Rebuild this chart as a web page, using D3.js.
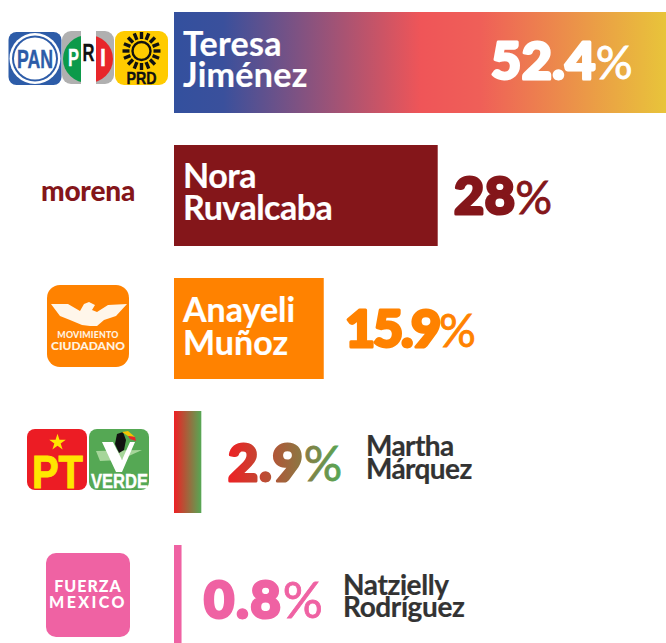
<!DOCTYPE html>
<html><head><meta charset="utf-8">
<script src="https://cdn.jsdelivr.net/npm/d3@7"></script>
<style>html,body{margin:0;padding:0;background:#fff}svg{display:block}text{font-family:Lato,"Open Sans",sans-serif}</style>
</head><body><div id="c"></div>
<script>
const firstNames=["Teresa","Nora","Anayeli","Martha","Natzielly"];
const lastNames=["Jiménez","Ruvalcaba","Muñoz","Márquez","Rodríguez"];
const values=[52.4,28,15.9,2.9,0.8];
const fills=["url(#gFront)","#84161a","#ff8200","url(#gGreen)","#ef62a3"];
const labelFills=["#fff","#84161a","#ff8200","url(#gGreen)","#ef62a3"];
const W=666,H=643;
const svg=d3.select("#c").append("svg").attr("width",W).attr("height",H);
const defs=svg.append("defs");
function grad(id,stops){const g=defs.append("linearGradient").attr("id",id);
 stops.forEach(s=>g.append("stop").attr("offset",s[0]).attr("stop-color",s[1]));}
grad("gFront",[[0,"#33509e"],[0.1,"#3a509c"],[0.5,"#ef5558"],[0.62,"#ef5f58"],[1,"#e8c53a"]]);
grad("gGreen",[[0,"#ee2024"],[1,"#55a854"]]);

const x=d3.scaleLinear().domain([0,52.4]).range([174,667.5]);
const yTop=[12,145,278,411,545], barH=[101,101,101,102,98];
const nameInside=[true,true,true,false,false];
const nameX=[183,183,183,366,343], name1Y=[56,188,322,456,595], name2Y=[87,220,355,479,617], nameSize=[34,34,34,28,28], nameSpace=[0.3,-0.5,0,-0.6,-0.4];
const valueStart=[491,454,345,228,204], valueY=[79,214,347,481,618], valueSize=[52,52,52,52,52], valueSpace=[0.5,0.5,-2.2,1,2], pctSize=[46,46,46,48,50];

svg.selectAll("rect.bar").data(values).join("rect").attr("class","bar")
 .attr("x",x(0)).attr("y",(d,i)=>yTop[i]).attr("width",d=>x(d)-x(0)).attr("height",(d,i)=>barH[i])
 .attr("fill",(d,i)=>fills[i]);

firstNames.forEach((n,i)=>{
 const col=nameInside[i]?"#fff":"#333";
 [[n,name1Y[i]],[lastNames[i],name2Y[i]]].forEach(([t,y])=>{
  svg.append("text").attr("x",nameX[i]).attr("y",y).attr("font-size",nameSize[i]).attr("font-weight",700)
   .attr("letter-spacing",nameSpace[i]).attr("fill",col).attr("stroke",col).attr("stroke-width",0.2).text(t);
 });
 const v=svg.append("text").attr("x",valueStart[i]).attr("y",valueY[i]).attr("font-size",valueSize[i])
  .attr("fill",labelFills[i]).attr("font-weight",900);
 v.append("tspan").attr("font-weight",900).attr("letter-spacing",valueSpace[i]).attr("stroke",labelFills[i])
  .attr("stroke-width",3).attr("stroke-linejoin","round").text(values[i]+"");
 v.append("tspan").attr("font-weight",400).attr("font-size",pctSize[i]).attr("stroke",labelFills[i]).attr("stroke-width",0.8).text("%");
});

// party emblems
function box(x0,y0,w,h,r,f){return svg.append("rect").attr("x",x0).attr("y",y0).attr("width",w).attr("height",h).attr("rx",r).attr("fill",f);}
function label(t,cx,y,s,f,w,ls){return svg.append("text").attr("x",cx).attr("y",y).attr("text-anchor","middle").attr("font-size",s).attr("font-weight",w||900).attr("fill",f).attr("letter-spacing",ls||0).text(t);}
function narrow(t,cx,y,s,f,len,sw){return svg.append("text").attr("x",cx).attr("y",y).attr("text-anchor","middle").attr("font-size",s).attr("font-weight",700)
 .style("font-family","'Liberation Sans'").attr("fill",f).attr("stroke",f).attr("stroke-width",sw||0).attr("textLength",len).attr("lengthAdjust","spacingAndGlyphs").text(t);}
const poly=d3.line();
// PAN
box(8.5,32,53,53,8,"#2d5ca8");
svg.append("circle").attr("cx",35).attr("cy",58.5).attr("r",25.5).attr("fill","#fff");
svg.append("circle").attr("cx",35).attr("cy",58.5).attr("r",23).attr("fill","#2d5ca8");
svg.append("circle").attr("cx",35).attr("cy",58.5).attr("r",21).attr("fill","#fff");
narrow("PAN",35,68,26,"#2d5ca8",36,0.4);
// PRI
box(62,31,52,53,9,"#b0b0b0");
defs.append("clipPath").attr("id","cpDisc").append("ellipse").attr("cx",88).attr("cy",59).attr("rx",25).attr("ry",24);
const pri=svg.append("g").attr("clip-path","url(#cpDisc)");
pri.append("rect").attr("x",62).attr("y",31).attr("width",19).attr("height",53).attr("fill","#0c9a4a");
pri.append("rect").attr("x",96).attr("y",31).attr("width",19).attr("height",53).attr("fill","#e8262a");
svg.append("rect").attr("x",81).attr("y",31).attr("width",15).attr("height",54).attr("fill","#fff");
narrow("P",73.5,66,24,"#fff",11,0.3);
narrow("R",88.5,61,24,"#111",12,0.3);
narrow("I",103,66,24,"#fff",6,0.3);
// PRD
box(115,31,53,54,9,"#ffcb00");
const rays=d3.range(16).map(k=>k*22.5);
svg.selectAll("line.ray").data(rays).join("line").attr("class","ray")
 .attr("x1",d=>141.5+Math.cos(d*Math.PI/180)*12).attr("y1",d=>51+Math.sin(d*Math.PI/180)*12)
 .attr("x2",d=>141.5+Math.cos(d*Math.PI/180)*19).attr("y2",d=>51+Math.sin(d*Math.PI/180)*19)
 .attr("stroke","#111").attr("stroke-width",3.4);
svg.append("circle").attr("cx",141.5).attr("cy",51).attr("r",9).attr("fill","none").attr("stroke","#111").attr("stroke-width",2.4);
narrow("PRD",141.5,84,17,"#111",30,0.4);
// morena
label("morena",88,201,28,"#84161a",900,-0.2);
// MC
box(47,285,82,82,13,"#ff8200");
svg.append("path").attr("d",poly([[51,304],[68,304],[80,311],[84,304],[89,302],[95,305],[92,310],[97,312],[108,305],[127,304],[116,316],[104,320],[97,326],[90,326],[82,325],[70,320],[60,316]])).attr("fill","#fff6ea");
label("MOVIMIENTO",88,338,8.8,"#fff3e0",900,0.2);
label("CIUDADANO",88,350,12,"#fff3e0",900,0);
// PT
box(27,429,60,61,8,"#ec1c24");
svg.append("path").attr("transform","translate(57.5,442.5)").attr("d",d3.symbol().type(d3.symbolStar).size(85)()).attr("fill","#ffe600");
narrow("PT",57.5,488,47,"#ffe600",51,1);
// Verde
box(89,429,60,61,8,"#55a854");
svg.append("path").attr("d",poly([[96,451],[142,450],[120,460],[100,461]])).attr("fill","#a6d69a");
svg.append("path").attr("d",poly([[102,442],[113,442],[122,460],[130,442],[135,442],[122,472],[116,472]])).attr("fill","#fff");
svg.append("path").attr("d",poly([[115,444],[117,434],[123,432],[126,440],[124,450],[119,453]])).attr("fill","#111");
svg.append("path").attr("d",poly([[122,432],[128,431],[135,437],[128,436]])).attr("fill","#f6c400");
svg.append("path").attr("d",poly([[128,436],[135,437],[136,441],[130,439]])).attr("fill","#e8262a");
narrow("VERDE",119.5,488,20,"#fff",57,0.4);
// Fuerza
box(46,553,84,84,10,"#ef62a3");
label("FUERZA",88,592,16,"#fff",900,1);
label("MEXICO",88,608,16,"#fff",900,2.4);
</script></body></html>
